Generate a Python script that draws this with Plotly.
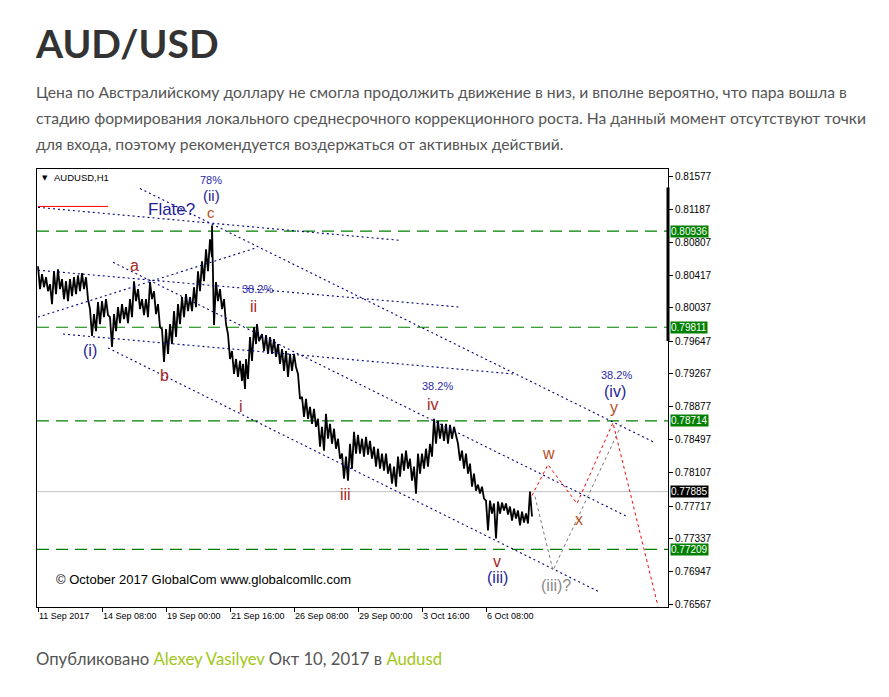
import plotly.graph_objects as go

W, H = 889, 697
OFF = 8                      # default page margin of the html body
FW, FH = W - OFF, H - OFF
PL, PR, PT, PB = 37, 668, 169, 609   # chart frame in page pixels

# ---------------- data ----------------
bars = [0, 4, 8, 12, 16, 20, 24, 28, 32, 36, 40, 44, 48, 52, 56, 60, 64, 68, 72, 76,
        80, 84, 88, 92, 96, 100, 104, 108, 112, 116, 120, 124, 128, 132, 136, 140, 144, 148, 152, 156,
        160, 164, 168, 172, 174, 178, 182, 186, 190, 194, 198, 202, 205, 208, 212, 216, 219, 224, 228, 232,
        236, 240, 244, 248, 252, 256, 260, 264, 268, 272, 276, 280, 284, 288, 292, 296, 300, 304, 308, 312,
        316, 320, 324, 328, 332, 336, 340, 344, 348, 352, 356, 360, 364, 368, 372, 376, 380, 384, 388, 392,
        396, 400, 404, 408, 412, 416, 420, 424, 428, 432, 436, 440, 444, 448, 452, 456, 460, 464, 468, 472,
        476, 480, 484, 488, 492]
highs = [0.80525, 0.80432, 0.80397, 0.80315, 0.80467, 0.80490, 0.80374, 0.80350, 0.80374, 0.80397,
         0.80420, 0.80444, 0.80397, 0.80023, 0.79965, 0.80105, 0.80117, 0.80140, 0.79930, 0.79965,
         0.80047, 0.80082, 0.80047, 0.80140, 0.80350, 0.80257, 0.80140, 0.80140, 0.80339, 0.80233,
         0.80082, 0.79790, 0.79790, 0.79848, 0.80000, 0.80082, 0.80163, 0.80198, 0.80163, 0.80280,
         0.80467, 0.80584, 0.80724, 0.80841, 0.81004, 0.80339, 0.80257, 0.80140, 0.79731, 0.79533,
         0.79439, 0.79416, 0.79381, 0.79439, 0.79696, 0.79813, 0.79848, 0.79731, 0.79720, 0.79696,
         0.79673, 0.79614, 0.79556, 0.79533, 0.79498, 0.79498, 0.79264, 0.78995, 0.78972, 0.78879,
         0.78855, 0.78738, 0.78645, 0.78797, 0.78680, 0.78622, 0.78505, 0.78330, 0.78295, 0.78446,
         0.78587, 0.78552, 0.78505, 0.78528, 0.78481, 0.78411, 0.78388, 0.78330, 0.78330, 0.78213,
         0.78178, 0.78295, 0.78330, 0.78365, 0.78271, 0.78178, 0.78330, 0.78330, 0.78388, 0.78446,
         0.78738, 0.78715, 0.78680, 0.78680, 0.78668, 0.78645, 0.78446, 0.78365, 0.78330, 0.78213,
         0.78096, 0.77968, 0.77944, 0.77781, 0.77781, 0.77746, 0.77769, 0.77757, 0.77746, 0.77711,
         0.77687, 0.77664, 0.77652, 0.77629, 0.77886]
lows = [0.80257, 0.80280, 0.80233, 0.80082, 0.80198, 0.80257, 0.80140, 0.80117, 0.80175, 0.80198,
        0.80233, 0.80257, 0.80140, 0.79708, 0.79766, 0.79848, 0.79930, 0.79953, 0.79579, 0.79766,
        0.79860, 0.79906, 0.79860, 0.79930, 0.80117, 0.80023, 0.79953, 0.79930, 0.80140, 0.79965,
        0.79813, 0.79404, 0.79498, 0.79614, 0.79696, 0.79848, 0.79930, 0.80000, 0.80000, 0.80047,
        0.80233, 0.80350, 0.80467, 0.80631, 0.79836, 0.80117, 0.80023, 0.79848, 0.79439, 0.79264,
        0.79229, 0.79182, 0.79089, 0.79206, 0.79416, 0.79614, 0.79649, 0.79533, 0.79498, 0.79498,
        0.79463, 0.79381, 0.79299, 0.79229, 0.79299, 0.79346, 0.78972, 0.78762, 0.78738, 0.78680,
        0.78645, 0.78411, 0.78365, 0.78505, 0.78446, 0.78388, 0.78271, 0.78038, 0.78014, 0.78154,
        0.78330, 0.78330, 0.78295, 0.78318, 0.78271, 0.78178, 0.78154, 0.78131, 0.78096, 0.77979,
        0.77944, 0.78061, 0.78131, 0.78154, 0.78014, 0.77862, 0.78096, 0.78154, 0.78178, 0.78295,
        0.78446, 0.78505, 0.78481, 0.78446, 0.78505, 0.78528, 0.78248, 0.78154, 0.78096, 0.77944,
        0.77897, 0.77862, 0.77804, 0.77430, 0.77629, 0.77337, 0.77629, 0.77664, 0.77617, 0.77547,
        0.77570, 0.77489, 0.77524, 0.77512, 0.77594]

tick_bars = [0, 64, 128, 192, 256, 320, 384, 448]
tick_labels = ["11 Sep 2017", "14 Sep 08:00", "19 Sep 00:00", "21 Sep 16:00",
               "26 Sep 08:00", "29 Sep 00:00", "3 Oct 16:00", "6 Oct 08:00"]
price_ticks = [0.81577, 0.81187, 0.80807, 0.80417, 0.80037, 0.79647, 0.79267,
               0.78877, 0.78497, 0.78107, 0.77717, 0.77337, 0.76947, 0.76567]
levels = [0.80936, 0.79811, 0.78714, 0.77209]
last_price = 0.77885
old_level = 0.81226
old_level_bars = [0, 70]

# trend lines: (bar0, price0, bar1, price1)
trend_lines = [
    (102, 0.81436, 617, 0.78458),
    (0, 0.81215, 362, 0.80829),
    (0, 0.79930, 217, 0.80736),
    (0, 0.80479, 422, 0.80047),
    (75, 0.80572, 589, 0.77594),
    (25, 0.79731, 475, 0.79264),
    (70, 0.79568, 560, 0.76718),
]
red_path_bars = [494, 510, 539, 575, 620]
red_path_prices = [0.77840, 0.78201, 0.77746, 0.78692, 0.76543]
gray_path_bars = [497, 515, 584]
gray_path_prices = [0.77827, 0.76963, 0.78680]

BLUE = "#1e1e96"
PCT = "#2a2aa6"
RED = "#a8261e"
ORG = "#b5501e"
GRAY = "#8a8a8a"
# wave labels: (text, bar, price, colour, size)
wave_labels = [
    ("78%", 173, 0.81530, PCT, 11),
    ("(ii)", 173, 0.81355, BLUE, 15),
    ("c", 173, 0.81160, ORG, 15),
    ("Flate?", 133, 0.81191, BLUE, 17),
    ("a", 96, 0.80537, RED, 16),
    ("b", 126, 0.79241, RED, 16),
    ("(i)", 52, 0.79544, BLUE, 16),
    ("ii", 215, 0.80058, RED, 16),
    ("38.2%", 219, 0.80257, PCT, 11),
    ("i", 203, 0.78879, RED, 16),
    ("iii", 307, 0.77851, RED, 16),
    ("38.2%", 399, 0.79124, PCT, 11),
    ("iv", 395, 0.78902, RED, 16),
    ("v", 459, 0.77068, RED, 16),
    ("(iii)", 459, 0.76881, BLUE, 16),
    ("(iii)?", 518, 0.76788, GRAY, 16),
    ("w", 510, 0.78330, ORG, 16),
    ("x", 541, 0.77559, ORG, 16),
    ("38.2%", 578, 0.79252, PCT, 11),
    ("(iv)", 577, 0.79054, BLUE, 16),
    ("y", 576, 0.78867, ORG, 16),
]

# ---------------- figure ----------------
def px_x(p):
    return (p - OFF) / FW

def px_y(p):
    return 1 - (p - OFF) / FH

fig = go.Figure()

# price bars drawn as a jagged high/low line
zx, zy = [], []
for b, h, l in zip(bars, highs, lows):
    zx += [b, b + 2]
    zy += [h, l]
fig.add_trace(go.Scatter(x=zx, y=zy, mode="lines",
                         line=dict(color="black", width=1.8), hoverinfo="skip"))

for (b0, p0, b1, p1) in trend_lines:
    fig.add_trace(go.Scatter(x=[b0, b1], y=[p0, p1], mode="lines",
                             line=dict(color="#000080", width=1.1, dash="2px,3px"),
                             hoverinfo="skip"))

fig.add_trace(go.Scatter(x=red_path_bars, y=red_path_prices, mode="lines",
                         line=dict(color="#ff0000", width=1, dash="3px,3px"), hoverinfo="skip"))
fig.add_trace(go.Scatter(x=gray_path_bars, y=gray_path_prices, mode="lines",
                         line=dict(color="#777777", width=1, dash="3px,3px"), hoverinfo="skip"))
fig.add_trace(go.Scatter(x=old_level_bars, y=[old_level, old_level], mode="lines",
                         line=dict(color="#ff0000", width=1), hoverinfo="skip"))

shapes = []
for lv in levels:
    shapes.append(dict(type="line", xref="paper", yref="y", x0=px_x(PL), x1=px_x(PR),
                       y0=lv, y1=lv, line=dict(color="#008000", width=1.2, dash="12px,7px"),
                       layer="below"))
shapes.append(dict(type="line", xref="paper", yref="y", x0=px_x(PL), x1=px_x(PR),
                   y0=last_price, y1=last_price, line=dict(color="#c0c0c0", width=1), layer="below"))
shapes.append(dict(type="line", xref="paper", yref="y", x0=px_x(PR), x1=px_x(PR),
                   y0=0.81448, y1=0.79649, line=dict(color="black", width=3)))

ann = []
for (t, b, p, c, s) in wave_labels:
    ann.append(dict(text=t, x=b, y=p, xref="x", yref="y", showarrow=False,
                    font=dict(family="Liberation Sans, Arial", size=s, color=c),
                    xanchor="center", yanchor="middle"))

# price level boxes
for lv in levels:
    ann.append(dict(text=f"{lv:.5f}", x=px_x(PR + 2), y=lv, xref="paper", yref="y",
                    showarrow=False, xanchor="left", yanchor="middle", bgcolor="#008000",
                    borderpad=0, font=dict(family="Liberation Sans, Arial", size=10, color="white")))
ann.append(dict(text=f"{last_price:.5f}", x=px_x(PR + 2), y=last_price, xref="paper", yref="y",
                showarrow=False, xanchor="left", yanchor="middle", bgcolor="black",
                borderpad=0, font=dict(family="Liberation Sans, Arial", size=10, color="white")))

# x tick labels (left aligned to ticks)
for b, t in zip(tick_bars, tick_labels):
    ann.append(dict(text=t, x=b, y=px_y(618), xref="x", yref="paper", showarrow=False,
                    xanchor="left", yanchor="middle", borderpad=0,
                    font=dict(family="Liberation Sans, Arial", size=9, color="black")))

ann.append(dict(text="▼", x=px_x(40), y=px_y(178), xref="paper", yref="paper", showarrow=False,
                xanchor="left", yanchor="middle", font=dict(family="DejaVu Sans", size=7, color="black")))
ann.append(dict(text="AUDUSD,H1", x=px_x(52), y=px_y(178), xref="paper", yref="paper", showarrow=False,
                xanchor="left", yanchor="middle",
                font=dict(family="Liberation Sans, Arial", size=9.5, color="black")))
ann.append(dict(text="© October 2017 GlobalCom www.globalcomllc.com", x=px_x(54), y=px_y(581),
                xref="paper", yref="paper", showarrow=False, xanchor="left", yanchor="middle",
                font=dict(family="Liberation Sans, Arial", size=13, color="black")))

# page text
ann.append(dict(text="<b>AUD/USD</b>", x=px_x(33), y=px_y(43), xref="paper", yref="paper",
                showarrow=False, xanchor="left", yanchor="middle",
                font=dict(family="Lato", size=39, color="#333333")))
para = ["Цена по Австралийскому доллару не смогла продолжить движение в низ, и вполне вероятно, что пара вошла в",
        "стадию формирования локального среднесрочного коррекционного роста. На данный момент отсутствуют точки",
        "для входа, поэтому рекомендуется воздержаться от активных действий."]
for i, line in enumerate(para):
    ann.append(dict(text=line, x=px_x(34), y=px_y(92 + 26 * i), xref="paper", yref="paper",
                    showarrow=False, xanchor="left", yanchor="middle",
                    font=dict(family="Lato", size=15.7, color="#555555")))
GREEN = "#a2c617"
footer = ("Опубликовано <span style='color:%s'>Alexey Vasilyev</span> Окт 10, 2017 в "
          "<span style='color:%s'>Audusd</span>" % (GREEN, GREEN))
ann.append(dict(text=footer, x=px_x(34), y=px_y(661), xref="paper", yref="paper",
                showarrow=False, xanchor="left", yanchor="middle",
                font=dict(family="Lato", size=16.7, color="#555555")))

fig.update_layout(
    width=FW, height=FH,
    margin=dict(l=0, r=0, t=0, b=0),
    paper_bgcolor="white", plot_bgcolor="white",
    showlegend=False,
    shapes=shapes, annotations=ann,
    xaxis=dict(domain=[px_x(PL), px_x(PR)], range=[-1, 630], showgrid=False, zeroline=False,
               showline=True, linecolor="black", linewidth=1, mirror=True,
               ticks="outside", ticklen=4, tickcolor="black", tickvals=tick_bars,
               showticklabels=False, fixedrange=True),
    yaxis=dict(domain=[px_y(PB), px_y(PT)], range=[0.76531, 0.81670], side="right",
               showgrid=False, zeroline=False, showline=True, linecolor="black", linewidth=1,
               mirror=True, ticks="outside", ticklen=4, tickcolor="black",
               tickvals=price_ticks, ticktext=[f"{v:.5f}" for v in price_ticks],
               tickfont=dict(family="Liberation Sans, Arial", size=10, color="black"),
               fixedrange=True),
)

fig.write_html("out.html", config={"displayModeBar": False})
